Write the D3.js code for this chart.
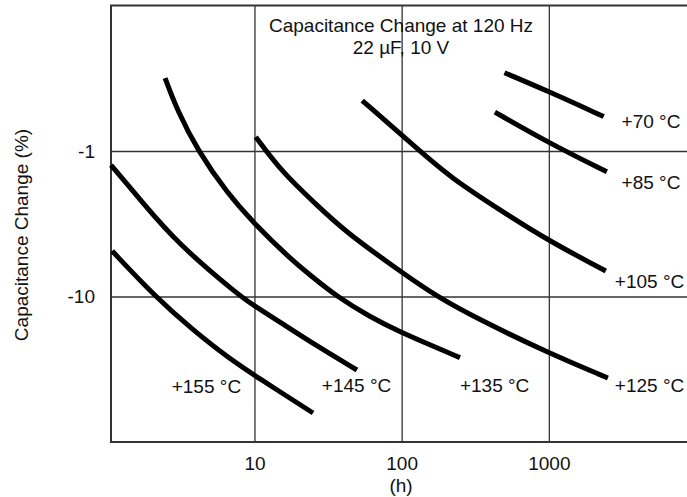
<!DOCTYPE html>
<html lang="en">
<head>
<meta charset="UTF-8">
<title>Capacitance Change</title>
<script src="https://cdn.jsdelivr.net/npm/d3@7"></script>
<style>
    body { margin: 0; background: #fff; }
    svg { display: block; font-family: "Liberation Sans", Arial, Helvetica, sans-serif; }
    .grid line { stroke: #333; stroke-width: 1.3; }
    .grid text { font-size: 19px; fill: #111; }
    .curve { fill: none; stroke: #000; stroke-width: 5; }
    .lbl { font-size: 19px; fill: #111; }
</style>
</head>
<body>
<div id="chart"></div>
<script>
// hours vs capacitance change (%)
var temps = ["+70 °C", "+85 °C", "+105 °C", "+125 °C", "+135 °C", "+145 °C", "+155 °C"];

var c70  = [[500, -0.29], [1000, -0.39], [2360, -0.58]];
var c85  = [[430, -0.54], [1000, -0.88], [2480, -1.39]];
var c105 = [[54, -0.45], [133, -1], [213, -1.51], [464, -2.54], [1000, -4.15], [2440, -6.68]];
var c125 = [[10.2, -0.80], [15.6, -1.42], [26.6, -2.35], [40.1, -3.49], [97.3, -6.7], [172.7, -10], [340, -14.5], [1000, -24.5], [2520, -36.3]];
var c135 = [[2.47, -0.315], [2.98, -0.523], [4.13, -1], [6.51, -1.94], [10, -3.17], [17.4, -5.47], [23.8, -7.1], [36.2, -10], [60.9, -13.8], [97.3, -17.5], [155.6, -21.5], [249, -26.3]];
var c145 = [[1.06, -1.25], [1.75, -2.28], [2.98, -4.29], [8, -10], [10, -11.6], [14.2, -14.5], [25.8, -21.5], [49.7, -32]];
var c155 = [[1.08, -4.87], [2.11, -10], [3.82, -17], [6.51, -26], [10.4, -35.8], [25, -63.2]];

var curves = [c70, c85, c105, c125, c135, c145, c155];

// where each temperature label sits, in (h, %)
var labelAt = [[3120, -0.63], [3120, -1.65], [2810, -7.9], [2810, -40.6], [249, -40.6], [28.7, -40.6], [2.74, -41.2]];

var xTicks = [10, 100, 1000];
var yTicks = [-1, -10];
var titleLines = ["Capacitance Change at 120 Hz", "22 µF, 10 V"];

var W = 687, H = 497;

var x = d3.scaleLog().domain([1.06, 10000]).range([111, 696]);
var y = d3.scaleLog().domain([-0.1, -100]).range([5.5, 442]);

var svg = d3.select("#chart").append("svg")
    .attr("width", W)
    .attr("height", H);

// grid + tick labels
svg.append("g")
    .attr("class", "grid")
    .attr("transform", "translate(0," + y.range()[1] + ")")
    .call(d3.axisBottom(x).tickValues(xTicks).tickFormat(function(d){ return d; })
        .tickSize(-(y.range()[1] - y.range()[0])).tickPadding(15))
    .call(function(g){ g.select(".domain").remove(); });

svg.append("g")
    .attr("class", "grid")
    .attr("transform", "translate(" + x.range()[0] + ",0)")
    .call(d3.axisLeft(y).tickValues(yTicks).tickFormat(function(d){ return String(d); })
        .tickSize(-(x.range()[1] - x.range()[0])).tickPadding(16))
    .call(function(g){ g.select(".domain").remove(); });

svg.selectAll(".grid").attr("font-family", null).attr("font-size", null);

// frame
svg.append("rect")
    .attr("x", x.range()[0])
    .attr("y", y.range()[0])
    .attr("width", x.range()[1] - x.range()[0])
    .attr("height", y.range()[1] - y.range()[0])
    .style("fill", "none")
    .style("stroke", "#333")
    .style("stroke-width", 2);

// curves
var line = d3.line()
    .x(function(d){ return x(d[0]); })
    .y(function(d){ return y(d[1]); })
    .curve(d3.curveBasis);

svg.selectAll(".curve")
    .data(curves)
    .enter().append("path")
    .attr("class", "curve")
    .attr("d", line);

// temperature labels
svg.selectAll(".lbl.t")
    .data(temps)
    .enter().append("text")
    .attr("class", "lbl t")
    .attr("x", function(d, i){ return x(labelAt[i][0]); })
    .attr("y", function(d, i){ return y(labelAt[i][1]); })
    .attr("dy", "0.35em")
    .text(function(d){ return d; });

// title
svg.selectAll(".lbl.title")
    .data(titleLines)
    .enter().append("text")
    .attr("class", "lbl title")
    .attr("x", 401)
    .attr("y", function(d, i){ return 25 + i * 22; })
    .attr("dy", "0.35em")
    .attr("text-anchor", "middle")
    .text(function(d){ return d; });

// axis titles
svg.append("text")
    .attr("class", "lbl")
    .attr("x", 401)
    .attr("y", 485)
    .attr("dy", "0.35em")
    .attr("text-anchor", "middle")
    .text("(h)");

svg.append("text")
    .attr("class", "lbl")
    .attr("transform", "translate(21,235) rotate(-90)")
    .attr("dy", "0.35em")
    .attr("text-anchor", "middle")
    .text("Capacitance Change (%)");
</script>
</body>
</html>
